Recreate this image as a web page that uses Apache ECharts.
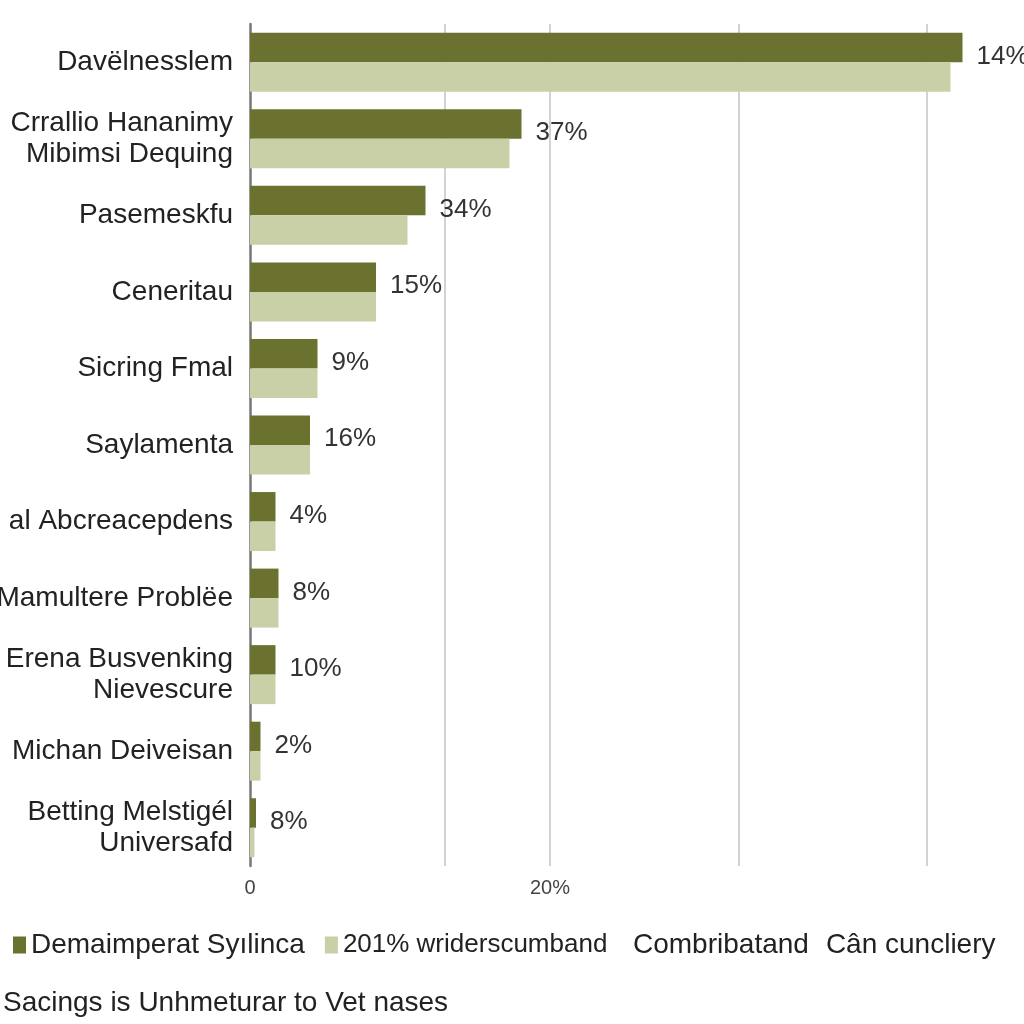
<!DOCTYPE html>
<html>
<head>
<meta charset="utf-8">
<script src="https://cdn.jsdelivr.net/npm/echarts@6/dist/echarts.min.js"></script>
<style>html,body{margin:0;padding:0;background:#fff}#c{width:1024px;height:1024px}</style>
</head>
<body>
<div id="c"></div>
<script>
const categories = ['Davëlnesslem','Crrallio Hananimy\nMibimsi Dequing','Pasemeskfu','Ceneritau','Sicring Fmal','Saylamenta','al Abcreacepdens','Mamultere Problëe','Erena Busvenking\nNievescure','Michan Deiveisan','Betting Melstigél\nUniversafd'];
const darkValues = [47.5, 18.1, 11.7, 8.4, 4.5, 4.0, 1.7, 1.9, 1.7, 0.7, 0.4];
const lightValues = [46.7, 17.3, 10.5, 8.4, 4.5, 4.0, 1.7, 1.9, 1.7, 0.7, 0.3];
const valueLabels = ['14%','37%','34%','15%','9%','16%','4%','8%','10%','2%','8%'];
const gridValues = [13, 20, 32.6, 45.1];
const tickLabels = {0: '0', 20: '20%'};
const seriesNames = ['Demaimperat Syılinca', '201% wriderscumband', 'Combribatand', 'Cân cuncliery'];
const subtitle = 'Sacings is Unhmeturar to Vet nases';

const FONT = '"Liberation Sans", Arial, sans-serif';
const chart = echarts.init(document.getElementById('c'));
chart.setOption({
  backgroundColor: '#ffffff',
  animation: false,
  textStyle: {fontFamily: FONT},
  title: {
    text: subtitle, left: -2, top: 984,
    textStyle: {fontFamily: FONT, fontSize: 28, fontWeight: 'normal', color: '#222'}
  },
  legend: [{
    data: [seriesNames[0], {name: seriesNames[1], textStyle: {fontSize: 26}}],
    left: 8, top: 926, itemWidth: 13, itemHeight: 17, itemGap: 20,
    icon: 'rect',
    textStyle: {fontFamily: FONT, fontSize: 28, color: '#222'}
  }, {
    data: [seriesNames[2], seriesNames[3]],
    left: 623, top: 926, itemWidth: 0, itemHeight: 0, itemGap: 12,
    icon: 'rect',
    itemStyle: {opacity: 0},
    lineStyle: {opacity: 0},
    textStyle: {fontFamily: FONT, fontSize: 28, color: '#222'}
  }],
  grid: {left: 250, right: 24, top: 24, bottom: 158, containLabel: false, outerBoundsMode: 'none'},
  xAxis: {
    type: 'value', min: 0, max: 50, interval: 20,
    axisLine: {show: false}, axisTick: {show: false}, splitLine: {show: false},
    axisLabel: {
      margin: 12, fontSize: 20, color: '#444', fontFamily: FONT,
      formatter: v => (tickLabels[v] !== undefined ? tickLabels[v] : '')
    }
  },
  yAxis: {
    type: 'category', data: categories, inverse: true,
    axisLine: {show: true, lineStyle: {color: '#777777', width: 2.5}},
    axisTick: {show: false},
    axisLabel: {margin: 17, fontSize: 28, lineHeight: 31, color: '#222', fontFamily: FONT}
  },
  series: [{
    name: seriesNames[0], type: 'bar', data: darkValues,
    barWidth: 29.5, barGap: '0%', z: 3,
    itemStyle: {color: '#6b7230'},
    label: {
      show: true, position: 'right', distance: 14, offset: [0, 9],
      fontSize: 26, color: '#333', fontFamily: FONT,
      formatter: p => valueLabels[p.dataIndex]
    },
    markLine: {
      silent: true, symbol: 'none', z: 1,
      label: {show: false},
      lineStyle: {color: '#c4c4c4', width: 1.5, type: 'solid'},
      data: gridValues.map(v => ({xAxis: v}))
    }
  }, {
    name: seriesNames[1], type: 'bar', data: lightValues,
    barWidth: 29.5, barGap: '0%', z: 3,
    itemStyle: {color: '#c9cfa6'}
  }, {
    name: seriesNames[2], type: 'line', data: []
  }, {
    name: seriesNames[3], type: 'line', data: []
  }]
});
</script>
</body>
</html>
